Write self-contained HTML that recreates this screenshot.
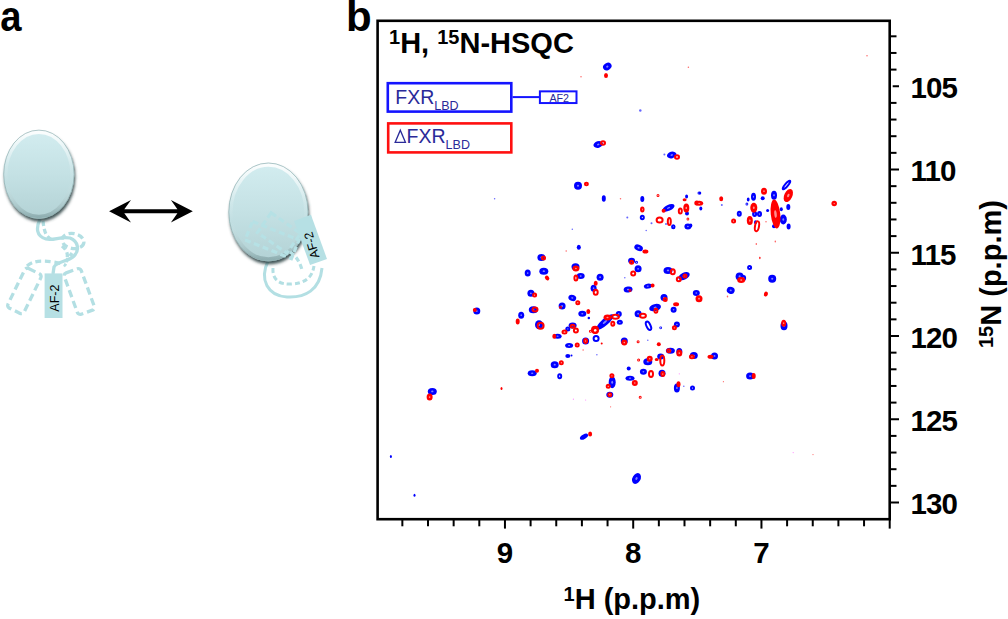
<!DOCTYPE html>
<html><head><meta charset="utf-8"><style>
html,body{margin:0;padding:0;background:#fff;width:1008px;height:619px;overflow:hidden}
svg{display:block;font-family:"Liberation Sans",sans-serif}
</style></head><body>
<svg width="1008" height="619" viewBox="0 0 1008 619">
<defs>
<linearGradient id="eg" x1="0" y1="0" x2="0" y2="1">
<stop offset="0" stop-color="#d3edf0"/>
<stop offset="0.5" stop-color="#c4e1e4"/>
<stop offset="1" stop-color="#b3d2d5"/>
</linearGradient>
<linearGradient id="rim" x1="0" y1="0" x2="0" y2="1">
<stop offset="0" stop-color="#ffffff" stop-opacity="0.9"/>
<stop offset="0.4" stop-color="#ffffff" stop-opacity="0.15"/>
<stop offset="0.6" stop-color="#ffffff" stop-opacity="0"/>
<stop offset="1" stop-color="#4d6e70" stop-opacity="0.35"/>
</linearGradient>
<filter id="sh" x="-20%" y="-20%" width="140%" height="140%">
<feGaussianBlur in="SourceAlpha" stdDeviation="1.8"/>
<feOffset dx="1" dy="2.5" result="b"/>
<feFlood flood-color="#2e4446" flood-opacity="0.9"/>
<feComposite in2="b" operator="in"/>
<feMerge><feMergeNode/><feMergeNode in="SourceGraphic"/></feMerge>
</filter>
</defs>
<g fill="none" stroke="#b3dfe3" stroke-width="3.3" stroke-linecap="butt">
<!-- left molecule tail -->
<path d="M40,219 C36,228 36,236 46,239 C54,241 60,236 70,238 C78,241 80,250 74,256 C68,262 57,261 54,267 L53,274"/>
<ellipse cx="73" cy="241" rx="11" ry="7.5" transform="rotate(10 73 241)" stroke-dasharray="6 3.5"/>
<path d="M43,221 C44,230 45,236 52,240" stroke-dasharray="5 3"/>
<path d="M62,246 C67,250 68,254 67,259" stroke-dasharray="5 3"/>
<path d="M27,266 C33,261 40,260 54,262 C60,263 64,264 66,266" stroke-dasharray="6 3.5"/>
<path d="M66,262 C68,258 70,256 72,253" stroke-dasharray="4 3"/>
<rect x="15.4" y="269" width="18" height="44" rx="3" transform="rotate(26 24.4 291)" stroke-dasharray="7.5 4"/>
<rect x="70.3" y="269.5" width="18" height="44" rx="3" transform="rotate(-20 79.3 291.5)" stroke-dasharray="7.5 4"/>
</g>
<rect x="44.6" y="273.4" width="17.9" height="44.6" fill="#b6e0e4"/>
<text transform="translate(59.3,311.7) rotate(-90)" font-size="12.5" fill="#000">AF-2</text>
<ellipse cx="38.9" cy="174.3" rx="35.4" ry="44.4" fill="url(#eg)" filter="url(#sh)"/>
<ellipse cx="38.9" cy="174.3" rx="33.2" ry="42.2" fill="none" stroke="url(#rim)" stroke-width="3.6"/>
<ellipse cx="38.9" cy="174.3" rx="35.2" ry="44.2" fill="none" stroke="#86a6a8" stroke-width="0.6"/>
<!-- right molecule -->
<g fill="none" stroke="#b3dfe3" stroke-width="3">
<path d="M268,261 C259,280 268,296 287,297 C305,298 320,290 322,268"/>
<path d="M273,268 C272,280 280,285 292,284 C305,283 312,278 314,266" stroke-dasharray="5 3"/>
</g>
<ellipse cx="268.4" cy="212" rx="39.8" ry="49.2" fill="url(#eg)" filter="url(#sh)"/>
<ellipse cx="268.4" cy="212" rx="37.6" ry="47" fill="none" stroke="url(#rim)" stroke-width="3.6"/>
<ellipse cx="268.4" cy="212" rx="39.6" ry="49" fill="none" stroke="#86a6a8" stroke-width="0.6"/>
<g fill="none" stroke="#b6e1e5" stroke-width="3.2">
<rect x="247" y="230" width="50" height="20" transform="rotate(22 272 240)" stroke-dasharray="6 3.5"/>
<rect x="261" y="221" width="36" height="24" transform="rotate(35 279 233)" stroke-dasharray="6 3.5"/>
<path d="M290,252 C296,256 300,262 302,270" stroke-dasharray="5 3"/>
</g>
<rect x="301.5" y="216.4" width="18" height="47" fill="#b6e0e4" transform="rotate(-20 310.5 239.9)"/>
<text transform="translate(319.5,257) rotate(-106)" font-size="12.5" fill="#000">AF-2</text>
<path d="M109.1,211.3 L131,200.1 L124.3,209.3 L177.4,209.3 L170.9,200.1 L192.8,211.3 L170.9,222.5 L177.4,213.3 L124.3,213.3 L131,222.5 Z" fill="#000"/>

<text transform="translate(0.3,31) scale(0.91,1)" font-size="42" font-weight="bold">a</text>
<text x="346" y="31" font-size="42" font-weight="bold">b</text>
<ellipse cx="607.3" cy="66.6" rx="4.50" ry="3.50" fill="#0000ff" transform="rotate(-30 607.3 66.6)"/>
<ellipse cx="607.3" cy="66.6" rx="1.17" ry="0.91" fill="#8080ff" transform="rotate(-30 607.3 66.6)"/>
<ellipse cx="640.3" cy="110.6" rx="1.25" ry="1.25" fill="#0000ff" opacity="0.6"/>
<ellipse cx="598.2" cy="144.5" rx="4.85" ry="3.25" fill="#0000ff" transform="rotate(-15 598.2 144.5)"/>
<ellipse cx="598.2" cy="144.5" rx="1.26" ry="0.84" fill="#8080ff" transform="rotate(-15 598.2 144.5)"/>
<ellipse cx="671.7" cy="155" rx="4.85" ry="3.25" fill="#0000ff" transform="rotate(-15 671.7 155)"/>
<ellipse cx="671.7" cy="155" rx="1.26" ry="0.84" fill="#8080ff" transform="rotate(-15 671.7 155)"/>
<ellipse cx="664.4" cy="154.5" rx="1.00" ry="1.00" fill="#0000ff" opacity="0.6"/>
<ellipse cx="578" cy="185.7" rx="4.00" ry="4.00" fill="#0000ff"/>
<ellipse cx="578" cy="185.7" rx="1.04" ry="1.04" fill="#8080ff"/>
<ellipse cx="603.8" cy="198.5" rx="1.00" ry="2.25" fill="none" stroke="#0000ff" stroke-width="2.0"/>
<ellipse cx="642.3" cy="199" rx="1.00" ry="2.00" fill="none" stroke="#0000ff" stroke-width="2.0"/>
<ellipse cx="642.3" cy="217.6" rx="1.50" ry="1.75" fill="none" stroke="#0000ff" stroke-width="2.0"/>
<ellipse cx="627.3" cy="217.6" rx="1.00" ry="1.00" fill="#0000ff" opacity="0.6"/>
<ellipse cx="668.5" cy="207.9" rx="6.50" ry="3.00" fill="#0000ff" transform="rotate(-25 668.5 207.9)"/>
<ellipse cx="668.5" cy="207.9" rx="1.69" ry="0.78" fill="#8080ff" transform="rotate(-25 668.5 207.9)"/>
<ellipse cx="673.3" cy="226.8" rx="1.25" ry="1.50" fill="none" stroke="#0000ff" stroke-width="2.0"/>
<ellipse cx="651.5" cy="223.2" rx="1.00" ry="1.00" fill="#0000ff" opacity="0.6"/>
<ellipse cx="666" cy="224" rx="1.00" ry="1.00" fill="#0000ff" opacity="0.6"/>
<ellipse cx="686.6" cy="196.6" rx="0.50" ry="1.00" fill="none" stroke="#0000ff" stroke-width="2.0"/>
<ellipse cx="687" cy="213.5" rx="1.00" ry="1.00" fill="none" stroke="#0000ff" stroke-width="2.0"/>
<ellipse cx="687.9" cy="226.5" rx="3.50" ry="3.00" fill="#0000ff"/>
<ellipse cx="687.9" cy="226.5" rx="0.91" ry="0.78" fill="#8080ff"/>
<ellipse cx="699" cy="193" rx="0.50" ry="0.50" fill="none" stroke="#0000ff" stroke-width="2.0"/>
<ellipse cx="572.3" cy="229.2" rx="0.75" ry="0.75" fill="#0000ff" opacity="0.6"/>
<ellipse cx="646.2" cy="230.5" rx="0.75" ry="0.75" fill="#0000ff" opacity="0.6"/>
<ellipse cx="700" cy="193.1" rx="1.25" ry="1.50" fill="#0000ff"/>
<ellipse cx="700.8" cy="208.5" rx="1.50" ry="2.00" fill="#0000ff"/>
<ellipse cx="721.8" cy="204.9" rx="1.00" ry="1.00" fill="#0000ff" opacity="0.6"/>
<ellipse cx="753.5" cy="196.8" rx="2.50" ry="4.00" fill="#0000ff"/>
<ellipse cx="753.5" cy="196.8" rx="0.65" ry="1.04" fill="#8080ff"/>
<ellipse cx="748.2" cy="199.6" rx="0.40" ry="1.00" fill="none" stroke="#0000ff" stroke-width="2.0"/>
<ellipse cx="746.9" cy="204" rx="0.40" ry="0.50" fill="none" stroke="#0000ff" stroke-width="2.0"/>
<ellipse cx="754.6" cy="214.1" rx="2.50" ry="3.00" fill="#0000ff"/>
<ellipse cx="754.6" cy="214.1" rx="0.65" ry="0.78" fill="#8080ff"/>
<ellipse cx="759.5" cy="214.1" rx="2.50" ry="3.00" fill="#0000ff"/>
<ellipse cx="759.5" cy="214.1" rx="0.65" ry="0.78" fill="#8080ff"/>
<ellipse cx="739.3" cy="213.7" rx="2.50" ry="3.00" fill="#0000ff"/>
<ellipse cx="739.3" cy="213.7" rx="0.65" ry="0.78" fill="#8080ff"/>
<ellipse cx="762.7" cy="198.3" rx="2.00" ry="2.00" fill="#0000ff"/>
<ellipse cx="774" cy="195.2" rx="3.00" ry="4.50" fill="#0000ff"/>
<ellipse cx="774" cy="195.2" rx="0.78" ry="1.17" fill="#8080ff"/>
<ellipse cx="774" cy="212" rx="1.00" ry="2.00" fill="none" stroke="#0000ff" stroke-width="2.0"/>
<ellipse cx="783.3" cy="219.5" rx="3.50" ry="5.00" fill="#0000ff"/>
<ellipse cx="783.3" cy="219.5" rx="0.91" ry="1.30" fill="#8080ff"/>
<ellipse cx="774" cy="226.3" rx="2.00" ry="2.00" fill="#0000ff"/>
<ellipse cx="788.6" cy="226.6" rx="2.00" ry="3.00" fill="#0000ff"/>
<ellipse cx="786.5" cy="185" rx="1.50" ry="5.50" fill="none" stroke="#0000ff" stroke-width="2.0" transform="rotate(40 786.5 185)"/>
<ellipse cx="788.3" cy="206.9" rx="2.00" ry="3.00" fill="#0000ff"/>
<ellipse cx="781.3" cy="209.3" rx="1.50" ry="2.00" fill="#0000ff"/>
<ellipse cx="767.6" cy="210.4" rx="1.50" ry="1.50" fill="#0000ff"/>
<ellipse cx="755.5" cy="222.2" rx="0.50" ry="1.00" fill="none" stroke="#0000ff" stroke-width="2.0"/>
<ellipse cx="690.8" cy="225.5" rx="1.50" ry="2.00" fill="#0000ff"/>
<ellipse cx="541.4" cy="257.5" rx="4.00" ry="3.50" fill="#0000ff"/>
<ellipse cx="541.4" cy="257.5" rx="1.04" ry="0.91" fill="#8080ff"/>
<ellipse cx="527.7" cy="273.1" rx="3.00" ry="3.50" fill="#0000ff"/>
<ellipse cx="527.7" cy="273.1" rx="0.78" ry="0.91" fill="#8080ff"/>
<ellipse cx="543.8" cy="271.2" rx="4.50" ry="3.50" fill="#0000ff"/>
<ellipse cx="543.8" cy="271.2" rx="1.17" ry="0.91" fill="#8080ff"/>
<ellipse cx="530.9" cy="293.3" rx="3.50" ry="3.50" fill="#0000ff"/>
<ellipse cx="530.9" cy="293.3" rx="0.91" ry="0.91" fill="#8080ff"/>
<ellipse cx="476.8" cy="311.1" rx="3.50" ry="3.50" fill="#0000ff"/>
<ellipse cx="476.8" cy="311.1" rx="0.91" ry="0.91" fill="#8080ff"/>
<ellipse cx="521.2" cy="315.2" rx="3.00" ry="3.50" fill="#0000ff"/>
<ellipse cx="521.2" cy="315.2" rx="0.78" ry="0.91" fill="#8080ff"/>
<ellipse cx="533.3" cy="309.8" rx="4.50" ry="3.50" fill="#0000ff"/>
<ellipse cx="533.3" cy="309.8" rx="1.17" ry="0.91" fill="#8080ff"/>
<ellipse cx="539" cy="324.8" rx="4.00" ry="4.50" fill="#0000ff"/>
<ellipse cx="539" cy="324.8" rx="1.04" ry="1.17" fill="#8080ff"/>
<ellipse cx="557.6" cy="336.2" rx="4.00" ry="2.50" fill="#0000ff"/>
<ellipse cx="557.6" cy="336.2" rx="1.04" ry="0.65" fill="#8080ff"/>
<ellipse cx="578.8" cy="247.3" rx="2.00" ry="2.50" fill="#0000ff"/>
<ellipse cx="638.6" cy="247.8" rx="4.50" ry="3.00" fill="#0000ff" transform="rotate(25 638.6 247.8)"/>
<ellipse cx="638.6" cy="247.8" rx="1.17" ry="0.78" fill="#8080ff" transform="rotate(25 638.6 247.8)"/>
<ellipse cx="575.5" cy="266.8" rx="4.00" ry="3.50" fill="#0000ff"/>
<ellipse cx="575.5" cy="266.8" rx="1.04" ry="0.91" fill="#8080ff"/>
<ellipse cx="580.7" cy="276.1" rx="4.00" ry="3.00" fill="#0000ff"/>
<ellipse cx="580.7" cy="276.1" rx="1.04" ry="0.78" fill="#8080ff"/>
<ellipse cx="600.1" cy="277.2" rx="3.50" ry="3.50" fill="#0000ff"/>
<ellipse cx="600.1" cy="277.2" rx="0.91" ry="0.91" fill="#8080ff"/>
<ellipse cx="631.6" cy="260.7" rx="3.50" ry="3.00" fill="#0000ff"/>
<ellipse cx="631.6" cy="260.7" rx="0.91" ry="0.78" fill="#8080ff"/>
<ellipse cx="636.5" cy="262.3" rx="0.50" ry="0.50" fill="none" stroke="#0000ff" stroke-width="2.0"/>
<ellipse cx="638.1" cy="268.8" rx="3.50" ry="3.50" fill="#0000ff"/>
<ellipse cx="638.1" cy="268.8" rx="0.91" ry="0.91" fill="#8080ff"/>
<ellipse cx="624.8" cy="277.7" rx="0.75" ry="0.75" fill="#0000ff" opacity="0.6"/>
<ellipse cx="593.6" cy="288.2" rx="3.00" ry="3.50" fill="#0000ff"/>
<ellipse cx="593.6" cy="288.2" rx="0.78" ry="0.91" fill="#8080ff"/>
<ellipse cx="628.1" cy="289.5" rx="4.50" ry="3.00" fill="#0000ff" transform="rotate(-10 628.1 289.5)"/>
<ellipse cx="628.1" cy="289.5" rx="1.17" ry="0.78" fill="#8080ff" transform="rotate(-10 628.1 289.5)"/>
<ellipse cx="647.8" cy="286.1" rx="4.00" ry="2.50" fill="#0000ff" transform="rotate(-10 647.8 286.1)"/>
<ellipse cx="647.8" cy="286.1" rx="1.04" ry="0.65" fill="#8080ff" transform="rotate(-10 647.8 286.1)"/>
<ellipse cx="668" cy="270.4" rx="4.50" ry="3.50" fill="#0000ff"/>
<ellipse cx="668" cy="270.4" rx="1.17" ry="0.91" fill="#8080ff"/>
<ellipse cx="684.1" cy="276.1" rx="6.00" ry="3.50" fill="#0000ff" transform="rotate(-25 684.1 276.1)"/>
<ellipse cx="684.1" cy="276.1" rx="1.56" ry="0.91" fill="#8080ff" transform="rotate(-25 684.1 276.1)"/>
<ellipse cx="696.3" cy="293" rx="3.50" ry="3.00" fill="#0000ff"/>
<ellipse cx="696.3" cy="293" rx="0.91" ry="0.78" fill="#8080ff"/>
<ellipse cx="664" cy="297.6" rx="3.50" ry="3.50" fill="#0000ff"/>
<ellipse cx="664" cy="297.6" rx="0.91" ry="0.91" fill="#8080ff"/>
<ellipse cx="572.3" cy="297.9" rx="4.00" ry="3.00" fill="#0000ff" transform="rotate(20 572.3 297.9)"/>
<ellipse cx="572.3" cy="297.9" rx="1.04" ry="0.78" fill="#8080ff" transform="rotate(20 572.3 297.9)"/>
<ellipse cx="562.1" cy="306" rx="3.50" ry="3.50" fill="#0000ff"/>
<ellipse cx="562.1" cy="306" rx="0.91" ry="0.91" fill="#8080ff"/>
<ellipse cx="582.3" cy="313.7" rx="4.00" ry="3.00" fill="#0000ff"/>
<ellipse cx="582.3" cy="313.7" rx="1.04" ry="0.78" fill="#8080ff"/>
<ellipse cx="588.8" cy="318" rx="1.25" ry="1.25" fill="#0000ff"/>
<ellipse cx="655.1" cy="307.6" rx="6.00" ry="3.50" fill="#0000ff" transform="rotate(-15 655.1 307.6)"/>
<ellipse cx="655.1" cy="307.6" rx="1.56" ry="0.91" fill="#8080ff" transform="rotate(-15 655.1 307.6)"/>
<ellipse cx="673.6" cy="309.7" rx="3.00" ry="3.00" fill="#0000ff"/>
<ellipse cx="673.6" cy="309.7" rx="0.78" ry="0.78" fill="#8080ff"/>
<ellipse cx="638.1" cy="313.7" rx="3.50" ry="3.50" fill="#0000ff"/>
<ellipse cx="638.1" cy="313.7" rx="0.91" ry="0.91" fill="#8080ff"/>
<ellipse cx="605" cy="322" rx="11.00" ry="3.50" fill="#0000ff" transform="rotate(-42 605 322)"/>
<ellipse cx="605" cy="322" rx="2.86" ry="0.91" fill="#8080ff" transform="rotate(-42 605 322)"/>
<ellipse cx="618.8" cy="313.9" rx="3.00" ry="3.00" fill="#0000ff"/>
<ellipse cx="618.8" cy="313.9" rx="0.78" ry="0.78" fill="#8080ff"/>
<ellipse cx="619.8" cy="322.3" rx="3.00" ry="2.50" fill="#0000ff"/>
<ellipse cx="619.8" cy="322.3" rx="0.78" ry="0.65" fill="#8080ff"/>
<ellipse cx="572.6" cy="325.4" rx="4.00" ry="3.00" fill="#0000ff"/>
<ellipse cx="572.6" cy="325.4" rx="1.04" ry="0.78" fill="#8080ff"/>
<ellipse cx="648.5" cy="325.8" rx="2.00" ry="4.50" fill="none" stroke="#0000ff" stroke-width="2.0" transform="rotate(-25 648.5 325.8)"/>
<ellipse cx="676.9" cy="324.5" rx="3.00" ry="3.00" fill="#0000ff"/>
<ellipse cx="676.9" cy="324.5" rx="0.78" ry="0.78" fill="#8080ff"/>
<ellipse cx="660.7" cy="327.8" rx="0.40" ry="0.40" fill="none" stroke="#0000ff" stroke-width="2.0"/>
<ellipse cx="749.6" cy="267.5" rx="1.50" ry="1.50" fill="none" stroke="#0000ff" stroke-width="2.0"/>
<ellipse cx="739.6" cy="276.4" rx="4.00" ry="4.00" fill="#0000ff"/>
<ellipse cx="739.6" cy="276.4" rx="1.04" ry="1.04" fill="#8080ff"/>
<ellipse cx="743.6" cy="278" rx="2.50" ry="3.00" fill="#0000ff"/>
<ellipse cx="743.6" cy="278" rx="0.65" ry="0.78" fill="#8080ff"/>
<ellipse cx="772.2" cy="278.8" rx="4.00" ry="4.00" fill="#0000ff"/>
<ellipse cx="772.2" cy="278.8" rx="1.04" ry="1.04" fill="#8080ff"/>
<ellipse cx="730.7" cy="290.4" rx="4.00" ry="3.50" fill="#0000ff" transform="rotate(20 730.7 290.4)"/>
<ellipse cx="730.7" cy="290.4" rx="1.04" ry="0.91" fill="#8080ff" transform="rotate(20 730.7 290.4)"/>
<ellipse cx="784" cy="325.7" rx="3.50" ry="4.50" fill="#0000ff"/>
<ellipse cx="784" cy="325.7" rx="0.91" ry="1.17" fill="#8080ff"/>
<ellipse cx="432.3" cy="391.4" rx="4.50" ry="3.50" fill="#0000ff"/>
<ellipse cx="432.3" cy="391.4" rx="1.17" ry="0.91" fill="#8080ff"/>
<ellipse cx="532.2" cy="373.2" rx="4.50" ry="3.00" fill="#0000ff"/>
<ellipse cx="532.2" cy="373.2" rx="1.17" ry="0.78" fill="#8080ff"/>
<ellipse cx="554.7" cy="364.7" rx="4.00" ry="3.50" fill="#0000ff"/>
<ellipse cx="554.7" cy="364.7" rx="1.04" ry="0.91" fill="#8080ff"/>
<ellipse cx="567.8" cy="328.9" rx="2.50" ry="2.50" fill="#0000ff"/>
<ellipse cx="567.8" cy="328.9" rx="0.65" ry="0.65" fill="#8080ff"/>
<ellipse cx="596.1" cy="338.6" rx="2.50" ry="2.50" fill="none" stroke="#0000ff" stroke-width="2.0"/>
<ellipse cx="585.6" cy="341" rx="3.50" ry="3.50" fill="#0000ff"/>
<ellipse cx="585.6" cy="341" rx="0.91" ry="0.91" fill="#8080ff"/>
<ellipse cx="569.1" cy="345.5" rx="4.00" ry="2.50" fill="#0000ff"/>
<ellipse cx="569.1" cy="345.5" rx="1.04" ry="0.65" fill="#8080ff"/>
<ellipse cx="567.8" cy="355.9" rx="2.50" ry="2.00" fill="#0000ff"/>
<ellipse cx="571.5" cy="355.6" rx="1.00" ry="1.00" fill="#0000ff"/>
<ellipse cx="596.9" cy="354.7" rx="0.75" ry="0.75" fill="#0000ff" opacity="0.6"/>
<ellipse cx="559.7" cy="376.2" rx="1.50" ry="2.00" fill="none" stroke="#0000ff" stroke-width="2.0"/>
<ellipse cx="624.3" cy="341" rx="3.50" ry="3.50" fill="#0000ff"/>
<ellipse cx="624.3" cy="341" rx="0.91" ry="0.91" fill="#8080ff"/>
<ellipse cx="647.8" cy="340.2" rx="0.75" ry="0.75" fill="#0000ff" opacity="0.6"/>
<ellipse cx="670.4" cy="350.7" rx="4.50" ry="3.00" fill="#0000ff"/>
<ellipse cx="670.4" cy="350.7" rx="1.17" ry="0.78" fill="#8080ff"/>
<ellipse cx="679.3" cy="351.5" rx="3.00" ry="3.50" fill="#0000ff"/>
<ellipse cx="679.3" cy="351.5" rx="0.78" ry="0.91" fill="#8080ff"/>
<ellipse cx="693.8" cy="355.6" rx="4.00" ry="3.50" fill="#0000ff"/>
<ellipse cx="693.8" cy="355.6" rx="1.04" ry="0.91" fill="#8080ff"/>
<ellipse cx="714.5" cy="355.9" rx="3.50" ry="3.50" fill="#0000ff"/>
<ellipse cx="714.5" cy="355.9" rx="0.91" ry="0.91" fill="#8080ff"/>
<ellipse cx="660.7" cy="356.4" rx="3.50" ry="3.00" fill="#0000ff"/>
<ellipse cx="660.7" cy="356.4" rx="0.91" ry="0.78" fill="#8080ff"/>
<ellipse cx="647.8" cy="361.7" rx="4.50" ry="3.50" fill="#0000ff"/>
<ellipse cx="647.8" cy="361.7" rx="1.17" ry="0.91" fill="#8080ff"/>
<ellipse cx="628.7" cy="368.5" rx="2.00" ry="2.00" fill="#0000ff"/>
<ellipse cx="643.4" cy="371.7" rx="3.50" ry="3.00" fill="#0000ff"/>
<ellipse cx="643.4" cy="371.7" rx="0.91" ry="0.78" fill="#8080ff"/>
<ellipse cx="662" cy="373.3" rx="3.50" ry="3.50" fill="#0000ff"/>
<ellipse cx="662" cy="373.3" rx="0.91" ry="0.91" fill="#8080ff"/>
<ellipse cx="630" cy="378.2" rx="4.50" ry="2.50" fill="#0000ff"/>
<ellipse cx="630" cy="378.2" rx="1.17" ry="0.65" fill="#8080ff"/>
<ellipse cx="612.2" cy="382.2" rx="3.50" ry="6.00" fill="#0000ff"/>
<ellipse cx="612.2" cy="382.2" rx="0.91" ry="1.56" fill="#8080ff"/>
<ellipse cx="609.8" cy="394.7" rx="3.50" ry="3.00" fill="#0000ff"/>
<ellipse cx="609.8" cy="394.7" rx="0.91" ry="0.78" fill="#8080ff"/>
<ellipse cx="676.9" cy="387.9" rx="3.00" ry="4.50" fill="#0000ff"/>
<ellipse cx="676.9" cy="387.9" rx="0.78" ry="1.17" fill="#8080ff"/>
<ellipse cx="683.8" cy="386.3" rx="0.75" ry="0.75" fill="#0000ff" opacity="0.6"/>
<ellipse cx="692.5" cy="387.9" rx="1.50" ry="1.50" fill="none" stroke="#0000ff" stroke-width="2.0"/>
<ellipse cx="750.1" cy="376.1" rx="4.00" ry="3.50" fill="#0000ff"/>
<ellipse cx="750.1" cy="376.1" rx="1.04" ry="0.91" fill="#8080ff"/>
<ellipse cx="584" cy="436.7" rx="4.50" ry="2.25" fill="#0000ff" transform="rotate(-30 584 436.7)"/>
<ellipse cx="636.5" cy="478.5" rx="4.00" ry="5.75" fill="#0000ff" transform="rotate(30 636.5 478.5)"/>
<ellipse cx="636.5" cy="478.5" rx="1.04" ry="1.50" fill="#8080ff" transform="rotate(30 636.5 478.5)"/>
<ellipse cx="390.9" cy="456.6" rx="1.00" ry="1.50" fill="#0000ff"/>
<ellipse cx="414.5" cy="495.3" rx="1.00" ry="1.50" fill="#0000ff"/>
<ellipse cx="494.6" cy="198.8" rx="0.75" ry="0.75" fill="#0000ff" opacity="0.6"/>
<ellipse cx="573.4" cy="399.2" rx="0.60" ry="0.60" fill="#ff40ff" opacity="0.6"/>
<ellipse cx="585.6" cy="400" rx="0.60" ry="0.60" fill="#ff40ff" opacity="0.6"/>
<ellipse cx="679.3" cy="373.8" rx="0.60" ry="0.60" fill="#ff40ff" opacity="0.6"/>
<ellipse cx="793.2" cy="452.6" rx="0.60" ry="0.60" fill="#ff40ff" opacity="0.6"/>
<ellipse cx="606" cy="75.4" rx="1.00" ry="1.50" fill="none" stroke="#ff0000" stroke-width="2.0"/>
<ellipse cx="581" cy="76.7" rx="0.75" ry="0.75" fill="#ff0000" opacity="0.6"/>
<ellipse cx="688.4" cy="67.3" rx="0.75" ry="0.75" fill="#ff0000" opacity="0.6"/>
<ellipse cx="867" cy="55.7" rx="0.75" ry="0.75" fill="#ff0000" opacity="0.6"/>
<ellipse cx="603" cy="142.9" rx="2.00" ry="1.75" fill="none" stroke="#ff0000" stroke-width="2.0"/>
<ellipse cx="677" cy="157" rx="2.00" ry="1.75" fill="none" stroke="#ff0000" stroke-width="2.0"/>
<ellipse cx="586.4" cy="184.1" rx="1.50" ry="1.25" fill="none" stroke="#ff0000" stroke-width="2.0"/>
<ellipse cx="620.5" cy="198.7" rx="0.75" ry="0.75" fill="#ff0000" opacity="0.6"/>
<ellipse cx="642.3" cy="209.5" rx="1.25" ry="2.00" fill="none" stroke="#ff0000" stroke-width="2.0"/>
<ellipse cx="658" cy="195.4" rx="0.50" ry="0.50" fill="none" stroke="#ff0000" stroke-width="2.0"/>
<ellipse cx="663.6" cy="210.8" rx="1.00" ry="1.00" fill="none" stroke="#ff0000" stroke-width="2.0"/>
<ellipse cx="659.6" cy="220" rx="3.00" ry="2.50" fill="none" stroke="#ff0000" stroke-width="2.0"/>
<ellipse cx="669.3" cy="221.6" rx="1.50" ry="3.50" fill="none" stroke="#ff0000" stroke-width="2.0"/>
<ellipse cx="680.3" cy="211.1" rx="1.50" ry="2.50" fill="none" stroke="#ff0000" stroke-width="2.0"/>
<ellipse cx="684.6" cy="199.8" rx="1.00" ry="0.50" fill="none" stroke="#ff0000" stroke-width="2.0"/>
<ellipse cx="686.3" cy="207.9" rx="3.00" ry="4.50" fill="#ff0000"/>
<ellipse cx="686.3" cy="207.9" rx="0.78" ry="1.17" fill="#ff9090"/>
<ellipse cx="687.9" cy="219" rx="0.40" ry="0.50" fill="none" stroke="#ff0000" stroke-width="2.0"/>
<ellipse cx="696.8" cy="203" rx="1.50" ry="1.50" fill="none" stroke="#ff0000" stroke-width="2.0"/>
<ellipse cx="699.2" cy="203.3" rx="4.00" ry="2.50" fill="#ff0000"/>
<ellipse cx="699.2" cy="203.3" rx="1.04" ry="0.65" fill="#ff9090"/>
<ellipse cx="721.2" cy="198.8" rx="1.00" ry="1.50" fill="none" stroke="#ff0000" stroke-width="2.0"/>
<ellipse cx="753.8" cy="207.7" rx="3.50" ry="5.00" fill="#ff0000"/>
<ellipse cx="753.8" cy="207.7" rx="0.91" ry="1.30" fill="#ff9090"/>
<ellipse cx="764" cy="191.2" rx="3.00" ry="3.50" fill="#ff0000"/>
<ellipse cx="764" cy="191.2" rx="0.78" ry="0.91" fill="#ff9090"/>
<ellipse cx="775.5" cy="214" rx="4.75" ry="14.50" fill="#ff0000" transform="rotate(-6 775.5 214)"/>
<ellipse cx="775.5" cy="214" rx="1.24" ry="3.77" fill="#ff9090" transform="rotate(-6 775.5 214)"/>
<ellipse cx="788.3" cy="195.5" rx="4.00" ry="7.00" fill="#ff0000" transform="rotate(25 788.3 195.5)"/>
<ellipse cx="788.3" cy="195.5" rx="1.04" ry="1.82" fill="#ff9090" transform="rotate(25 788.3 195.5)"/>
<ellipse cx="749.8" cy="220.6" rx="3.00" ry="4.50" fill="#ff0000"/>
<ellipse cx="749.8" cy="220.6" rx="0.78" ry="1.17" fill="#ff9090"/>
<ellipse cx="757" cy="226.3" rx="2.00" ry="5.00" fill="none" stroke="#ff0000" stroke-width="2.0" transform="rotate(10 757 226.3)"/>
<ellipse cx="733.6" cy="221.1" rx="1.50" ry="1.50" fill="none" stroke="#ff0000" stroke-width="2.0"/>
<ellipse cx="756.3" cy="244" rx="0.75" ry="1.00" fill="#ff0000" opacity="0.6"/>
<ellipse cx="759.8" cy="257.8" rx="0.75" ry="1.00" fill="#ff0000" opacity="0.6"/>
<ellipse cx="775.3" cy="241.6" rx="0.75" ry="1.00" fill="#ff0000" opacity="0.6"/>
<ellipse cx="766" cy="221.7" rx="0.75" ry="0.75" fill="#ff0000" opacity="0.6"/>
<ellipse cx="834.2" cy="203.6" rx="2.75" ry="2.75" fill="#ff0000"/>
<ellipse cx="834.2" cy="203.6" rx="0.72" ry="0.72" fill="#ff9090"/>
<ellipse cx="543.5" cy="258.1" rx="1.50" ry="1.50" fill="none" stroke="#ff0000" stroke-width="2.0"/>
<ellipse cx="547.1" cy="278" rx="1.00" ry="1.50" fill="none" stroke="#ff0000" stroke-width="2.0" transform="rotate(-40 547.1 278)"/>
<ellipse cx="534.6" cy="295" rx="1.50" ry="1.50" fill="none" stroke="#ff0000" stroke-width="2.0"/>
<ellipse cx="474.8" cy="310" rx="1.00" ry="1.00" fill="none" stroke="#ff0000" stroke-width="2.0"/>
<ellipse cx="517.7" cy="321.6" rx="1.00" ry="2.00" fill="none" stroke="#ff0000" stroke-width="2.0"/>
<ellipse cx="535" cy="309.5" rx="2.50" ry="2.00" fill="none" stroke="#ff0000" stroke-width="2.0"/>
<ellipse cx="540.6" cy="325.7" rx="3.00" ry="3.00" fill="none" stroke="#ff0000" stroke-width="2.0"/>
<ellipse cx="554.3" cy="336.2" rx="1.00" ry="1.50" fill="none" stroke="#ff0000" stroke-width="2.0"/>
<ellipse cx="566.2" cy="251" rx="0.75" ry="0.75" fill="#ff0000" opacity="0.6"/>
<ellipse cx="645.4" cy="251.5" rx="2.00" ry="1.00" fill="none" stroke="#ff0000" stroke-width="2.0"/>
<ellipse cx="575.9" cy="268.5" rx="3.50" ry="3.00" fill="#ff0000"/>
<ellipse cx="575.9" cy="268.5" rx="0.91" ry="0.78" fill="#ff9090"/>
<ellipse cx="575.9" cy="278" rx="1.50" ry="2.50" fill="none" stroke="#ff0000" stroke-width="2.0"/>
<ellipse cx="631.6" cy="262.3" rx="1.50" ry="1.50" fill="none" stroke="#ff0000" stroke-width="2.0"/>
<ellipse cx="633.2" cy="273.6" rx="2.00" ry="2.00" fill="none" stroke="#ff0000" stroke-width="2.0"/>
<ellipse cx="595.7" cy="292.2" rx="2.00" ry="2.50" fill="none" stroke="#ff0000" stroke-width="2.0"/>
<ellipse cx="595.7" cy="283.3" rx="1.00" ry="1.50" fill="none" stroke="#ff0000" stroke-width="2.0"/>
<ellipse cx="630" cy="290.6" rx="0.50" ry="0.50" fill="none" stroke="#ff0000" stroke-width="2.0"/>
<ellipse cx="652.6" cy="285.4" rx="1.00" ry="1.00" fill="none" stroke="#ff0000" stroke-width="2.0"/>
<ellipse cx="672.8" cy="271.7" rx="2.00" ry="2.50" fill="none" stroke="#ff0000" stroke-width="2.0"/>
<ellipse cx="678.8" cy="279.3" rx="2.00" ry="2.00" fill="none" stroke="#ff0000" stroke-width="2.0"/>
<ellipse cx="685" cy="276.1" rx="1.50" ry="1.50" fill="none" stroke="#ff0000" stroke-width="2.0"/>
<ellipse cx="699" cy="298.7" rx="3.50" ry="3.50" fill="#ff0000"/>
<ellipse cx="699" cy="298.7" rx="0.91" ry="0.91" fill="#ff9090"/>
<ellipse cx="665.2" cy="299.5" rx="1.50" ry="1.50" fill="none" stroke="#ff0000" stroke-width="2.0"/>
<ellipse cx="676.1" cy="304.3" rx="2.00" ry="1.00" fill="none" stroke="#ff0000" stroke-width="2.0"/>
<ellipse cx="577.8" cy="302.7" rx="1.50" ry="1.50" fill="none" stroke="#ff0000" stroke-width="2.0"/>
<ellipse cx="560.5" cy="307.3" rx="0.50" ry="0.50" fill="none" stroke="#ff0000" stroke-width="2.0"/>
<ellipse cx="588.3" cy="311.6" rx="1.00" ry="1.50" fill="none" stroke="#ff0000" stroke-width="2.0"/>
<ellipse cx="655.9" cy="310.8" rx="1.50" ry="2.00" fill="none" stroke="#ff0000" stroke-width="2.0"/>
<ellipse cx="642.9" cy="315.7" rx="3.00" ry="2.00" fill="none" stroke="#ff0000" stroke-width="2.0"/>
<ellipse cx="607.5" cy="317.5" rx="4.00" ry="3.00" fill="#ff0000"/>
<ellipse cx="607.5" cy="317.5" rx="1.04" ry="0.78" fill="#ff9090"/>
<ellipse cx="615.5" cy="316.8" rx="3.50" ry="2.00" fill="none" stroke="#ff0000" stroke-width="2.0"/>
<ellipse cx="612.8" cy="323.8" rx="1.50" ry="2.00" fill="none" stroke="#ff0000" stroke-width="2.0"/>
<ellipse cx="572.6" cy="326.2" rx="2.00" ry="1.50" fill="none" stroke="#ff0000" stroke-width="2.0"/>
<ellipse cx="595" cy="329.8" rx="3.00" ry="3.00" fill="none" stroke="#ff0000" stroke-width="2.0"/>
<ellipse cx="674.4" cy="327.8" rx="2.50" ry="2.50" fill="#ff0000"/>
<ellipse cx="674.4" cy="327.8" rx="0.65" ry="0.65" fill="#ff9090"/>
<ellipse cx="759.8" cy="258.1" rx="0.75" ry="1.25" fill="#ff0000" opacity="0.6"/>
<ellipse cx="741.2" cy="280.1" rx="4.00" ry="3.00" fill="#ff0000"/>
<ellipse cx="741.2" cy="280.1" rx="1.04" ry="0.78" fill="#ff9090"/>
<ellipse cx="727.5" cy="296.6" rx="0.75" ry="1.00" fill="#ff0000" opacity="0.6"/>
<ellipse cx="765.9" cy="294.1" rx="1.00" ry="1.50" fill="none" stroke="#ff0000" stroke-width="2.0" transform="rotate(20 765.9 294.1)"/>
<ellipse cx="783.7" cy="323.2" rx="2.50" ry="3.50" fill="#ff0000"/>
<ellipse cx="783.7" cy="323.2" rx="0.65" ry="0.91" fill="#ff9090"/>
<ellipse cx="429.6" cy="397.1" rx="3.00" ry="3.50" fill="#ff0000"/>
<ellipse cx="429.6" cy="397.1" rx="0.78" ry="0.91" fill="#ff9090"/>
<ellipse cx="501.5" cy="388.5" rx="1.00" ry="1.50" fill="#ff0000"/>
<ellipse cx="537" cy="370.7" rx="1.00" ry="1.00" fill="none" stroke="#ff0000" stroke-width="2.0"/>
<ellipse cx="575.9" cy="330.5" rx="2.00" ry="2.00" fill="none" stroke="#ff0000" stroke-width="2.0"/>
<ellipse cx="564.5" cy="332.1" rx="2.00" ry="1.50" fill="none" stroke="#ff0000" stroke-width="2.0"/>
<ellipse cx="595.3" cy="330.5" rx="2.50" ry="2.50" fill="none" stroke="#ff0000" stroke-width="2.0"/>
<ellipse cx="590.4" cy="331.3" rx="0.50" ry="0.50" fill="none" stroke="#ff0000" stroke-width="2.0"/>
<ellipse cx="585.6" cy="341" rx="2.50" ry="3.00" fill="#ff0000"/>
<ellipse cx="585.6" cy="341" rx="0.65" ry="0.78" fill="#ff9090"/>
<ellipse cx="601.7" cy="343.4" rx="1.00" ry="1.00" fill="#ff0000"/>
<ellipse cx="577.2" cy="345" rx="1.50" ry="1.50" fill="none" stroke="#ff0000" stroke-width="2.0"/>
<ellipse cx="583.1" cy="349.9" rx="0.75" ry="0.75" fill="#ff0000" opacity="0.6"/>
<ellipse cx="561.3" cy="362.8" rx="1.50" ry="1.50" fill="none" stroke="#ff0000" stroke-width="2.0"/>
<ellipse cx="624.3" cy="342.6" rx="3.00" ry="3.00" fill="#ff0000"/>
<ellipse cx="624.3" cy="342.6" rx="0.78" ry="0.78" fill="#ff9090"/>
<ellipse cx="638.1" cy="341.8" rx="0.50" ry="0.50" fill="none" stroke="#ff0000" stroke-width="2.0"/>
<ellipse cx="658.8" cy="344.2" rx="2.00" ry="2.00" fill="#ff0000"/>
<ellipse cx="668.8" cy="350.7" rx="1.50" ry="1.50" fill="none" stroke="#ff0000" stroke-width="2.0"/>
<ellipse cx="679.3" cy="353.1" rx="3.00" ry="3.50" fill="#ff0000"/>
<ellipse cx="679.3" cy="353.1" rx="0.78" ry="0.91" fill="#ff9090"/>
<ellipse cx="691.9" cy="356.8" rx="3.00" ry="2.50" fill="#ff0000"/>
<ellipse cx="691.9" cy="356.8" rx="0.78" ry="0.65" fill="#ff9090"/>
<ellipse cx="710.5" cy="356.8" rx="3.00" ry="2.00" fill="#ff0000"/>
<ellipse cx="662.3" cy="360.4" rx="2.00" ry="5.00" fill="none" stroke="#ff0000" stroke-width="2.0"/>
<ellipse cx="649.7" cy="358.8" rx="3.00" ry="3.00" fill="#ff0000"/>
<ellipse cx="649.7" cy="358.8" rx="0.78" ry="0.78" fill="#ff9090"/>
<ellipse cx="656.7" cy="359.6" rx="1.00" ry="0.50" fill="none" stroke="#ff0000" stroke-width="2.0"/>
<ellipse cx="638.6" cy="360.1" rx="0.50" ry="0.50" fill="none" stroke="#ff0000" stroke-width="2.0"/>
<ellipse cx="651" cy="374.1" rx="2.00" ry="3.00" fill="none" stroke="#ff0000" stroke-width="2.0"/>
<ellipse cx="662.8" cy="374.1" rx="2.50" ry="3.00" fill="#ff0000"/>
<ellipse cx="662.8" cy="374.1" rx="0.65" ry="0.78" fill="#ff9090"/>
<ellipse cx="634.8" cy="383" rx="3.00" ry="3.00" fill="#ff0000"/>
<ellipse cx="634.8" cy="383" rx="0.78" ry="0.78" fill="#ff9090"/>
<ellipse cx="611.9" cy="375.8" rx="2.50" ry="2.50" fill="#ff0000"/>
<ellipse cx="611.9" cy="375.8" rx="0.65" ry="0.65" fill="#ff9090"/>
<ellipse cx="608.2" cy="386.3" rx="1.50" ry="1.50" fill="none" stroke="#ff0000" stroke-width="2.0"/>
<ellipse cx="609.8" cy="394.7" rx="2.50" ry="2.50" fill="#ff0000"/>
<ellipse cx="609.8" cy="394.7" rx="0.65" ry="0.65" fill="#ff9090"/>
<ellipse cx="640.2" cy="397.3" rx="0.50" ry="0.50" fill="none" stroke="#ff0000" stroke-width="2.0"/>
<ellipse cx="678.5" cy="384.3" rx="2.00" ry="3.00" fill="#ff0000"/>
<ellipse cx="610.6" cy="406.8" rx="0.60" ry="0.60" fill="#ff0000" opacity="0.6"/>
<ellipse cx="753.7" cy="376.1" rx="2.00" ry="3.00" fill="#ff0000"/>
<ellipse cx="723.4" cy="381.7" rx="0.60" ry="0.60" fill="#ff0000" opacity="0.6"/>
<ellipse cx="590.1" cy="433.9" rx="2.00" ry="2.50" fill="#ff0000"/>
<ellipse cx="813" cy="454.6" rx="0.60" ry="0.60" fill="#ff0000" opacity="0.6"/>
<rect x="377.6" y="20.8" width="512.1" height="498.4" fill="none" stroke="#000" stroke-width="2.6"/>
<g stroke="#000" stroke-width="2">
<line x1="402.35" y1="519" x2="402.35" y2="526.3"/>
<line x1="428.00" y1="519" x2="428.00" y2="526.3"/>
<line x1="453.65" y1="519" x2="453.65" y2="526.3"/>
<line x1="479.30" y1="519" x2="479.30" y2="526.3"/>
<line x1="504.95" y1="519" x2="504.95" y2="528.6"/>
<line x1="530.60" y1="519" x2="530.60" y2="526.3"/>
<line x1="556.25" y1="519" x2="556.25" y2="526.3"/>
<line x1="581.90" y1="519" x2="581.90" y2="526.3"/>
<line x1="607.55" y1="519" x2="607.55" y2="526.3"/>
<line x1="633.20" y1="519" x2="633.20" y2="528.6"/>
<line x1="658.85" y1="519" x2="658.85" y2="526.3"/>
<line x1="684.50" y1="519" x2="684.50" y2="526.3"/>
<line x1="710.15" y1="519" x2="710.15" y2="526.3"/>
<line x1="735.80" y1="519" x2="735.80" y2="526.3"/>
<line x1="761.45" y1="519" x2="761.45" y2="528.6"/>
<line x1="787.10" y1="519" x2="787.10" y2="526.3"/>
<line x1="812.75" y1="519" x2="812.75" y2="526.3"/>
<line x1="838.40" y1="519" x2="838.40" y2="526.3"/>
<line x1="864.05" y1="519" x2="864.05" y2="526.3"/>
<line x1="889.70" y1="519" x2="889.70" y2="528.6"/>
<line x1="889.5" y1="36.30" x2="896.5" y2="36.30"/>
<line x1="889.5" y1="52.95" x2="896.5" y2="52.95"/>
<line x1="889.5" y1="69.60" x2="896.5" y2="69.60"/>
<line x1="892.7" y1="86.25" x2="899" y2="86.25"/>
<line x1="889.5" y1="102.90" x2="896.5" y2="102.90"/>
<line x1="889.5" y1="119.55" x2="896.5" y2="119.55"/>
<line x1="889.5" y1="136.20" x2="896.5" y2="136.20"/>
<line x1="889.5" y1="152.85" x2="896.5" y2="152.85"/>
<line x1="889.5" y1="169.50" x2="899" y2="169.50"/>
<line x1="889.5" y1="186.15" x2="896.5" y2="186.15"/>
<line x1="889.5" y1="202.80" x2="896.5" y2="202.80"/>
<line x1="889.5" y1="219.45" x2="896.5" y2="219.45"/>
<line x1="889.5" y1="236.10" x2="896.5" y2="236.10"/>
<line x1="889.5" y1="252.75" x2="899" y2="252.75"/>
<line x1="889.5" y1="269.40" x2="896.5" y2="269.40"/>
<line x1="889.5" y1="286.05" x2="896.5" y2="286.05"/>
<line x1="889.5" y1="302.70" x2="896.5" y2="302.70"/>
<line x1="889.5" y1="319.35" x2="896.5" y2="319.35"/>
<line x1="889.5" y1="336.00" x2="899" y2="336.00"/>
<line x1="889.5" y1="352.65" x2="896.5" y2="352.65"/>
<line x1="889.5" y1="369.30" x2="896.5" y2="369.30"/>
<line x1="889.5" y1="385.95" x2="896.5" y2="385.95"/>
<line x1="889.5" y1="402.60" x2="896.5" y2="402.60"/>
<line x1="889.5" y1="419.25" x2="899" y2="419.25"/>
<line x1="889.5" y1="435.90" x2="896.5" y2="435.90"/>
<line x1="889.5" y1="452.55" x2="896.5" y2="452.55"/>
<line x1="889.5" y1="469.20" x2="896.5" y2="469.20"/>
<line x1="889.5" y1="485.85" x2="896.5" y2="485.85"/>
<line x1="889.5" y1="502.50" x2="899" y2="502.50"/>
</g>
<g font-size="29.5" font-weight="bold"><text x="910.5" y="98.2" letter-spacing="-0.9">105</text><text x="910.5" y="181.4" letter-spacing="-0.9">110</text><text x="910.5" y="264.6" letter-spacing="-0.9">115</text><text x="910.5" y="347.9" letter-spacing="-0.9">120</text><text x="910.5" y="431.1" letter-spacing="-0.9">125</text><text x="910.5" y="514.4" letter-spacing="-0.9">130</text><text x="505.0" y="562.5" text-anchor="middle">9</text><text x="633.2" y="562.5" text-anchor="middle">8</text><text x="761.5" y="562.5" text-anchor="middle">7</text></g>
<text x="389" y="52.7" font-size="29" font-weight="bold"><tspan font-size="20" dy="-8.4">1</tspan><tspan dy="8.4">H, </tspan><tspan font-size="20" dy="-8.4">15</tspan><tspan dy="8.4">N-HSQC</tspan></text>
<text x="563.5" y="609" font-size="29" font-weight="bold"><tspan font-size="20" dy="-8.4">1</tspan><tspan dy="8.4">H (p.p.m)</tspan></text>
<text transform="translate(1001,348) rotate(-90)" font-size="29" font-weight="bold"><tspan font-size="20" dy="-8.4">15</tspan><tspan dy="8.4">N (p.p.m)</tspan></text>
<!--LEGEND-->
<rect x="387.8" y="83.2" width="123.5" height="28.4" fill="none" stroke="#1414ff" stroke-width="2.6"/>
<line x1="512.5" y1="97.1" x2="540" y2="97.1" stroke="#1414ff" stroke-width="2"/>
<rect x="539.9" y="91.35" width="36.6" height="11.7" fill="none" stroke="#1414ff" stroke-width="2"/>
<text x="559.2" y="101.8" font-size="10.7" fill="#2a2a99" text-anchor="middle">AF2</text>
<rect x="388.2" y="123.4" width="123.1" height="29" fill="none" stroke="#ff1010" stroke-width="2.6"/>
<text x="395.3" y="103.9" font-size="19.5" fill="#2a2a99">FXR<tspan font-size="12.5" dy="5.6">LBD</tspan></text>
<path d="M395.2,142.3 L400.3,130.3 L405.4,142.3 Z" fill="none" stroke="#2a2a99" stroke-width="1.35" stroke-linejoin="miter"/>
<text x="406.6" y="143" font-size="19.5" fill="#2a2a99">FXR<tspan font-size="12.5" dy="5.6">LBD</tspan></text>
</svg>
</body></html>
